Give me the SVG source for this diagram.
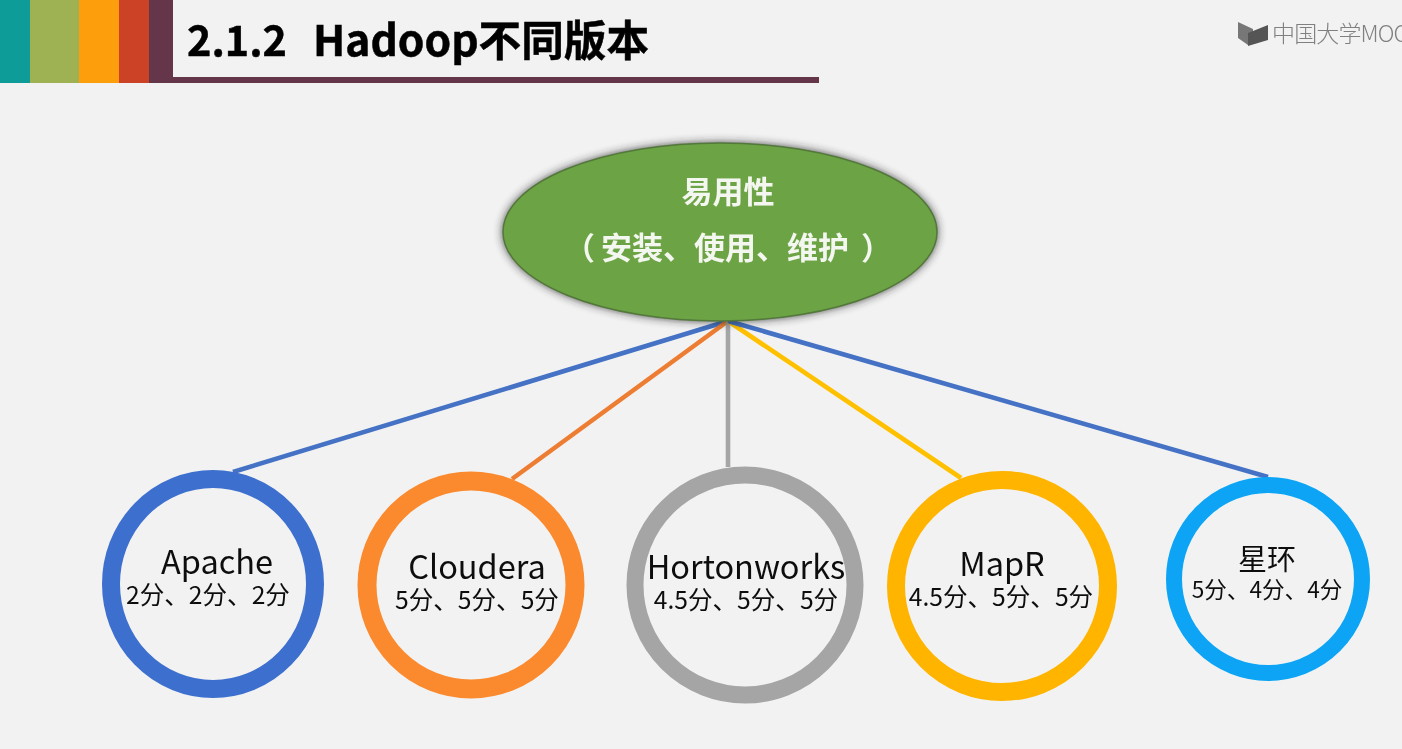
<svg xmlns="http://www.w3.org/2000/svg" width="1402" height="749" viewBox="0 0 1402 749">
<defs>
<style>
.t{font-family:"Noto Sans CJK SC","Noto Sans",sans-serif;text-anchor:middle;fill:#111}
.n{font-size:32.5px}
.s{font-size:24.6px}
.ring{fill:none}
.c{fill:none;stroke-width:4.6}
.w{font-family:"Noto Sans CJK SC","Noto Sans",sans-serif;font-weight:700;font-size:31px;fill:#f4f7f0;text-anchor:middle}
.h{font-family:"Noto Sans CJK SC","Noto Sans",sans-serif;font-weight:700;font-size:42px;fill:#000;stroke:#000;stroke-width:.5}
</style>
<filter id="sh" x="-10%" y="-15%" width="120%" height="130%"><feGaussianBlur stdDeviation="4"/></filter>
<filter id="b" filterUnits="userSpaceOnUse" x="0" y="0" width="1402" height="749"><feGaussianBlur stdDeviation="0.55"/></filter>
</defs>
<rect width="1402" height="749" fill="#f2f2f2"/>
<g filter="url(#b)">
<g id="header">
<rect x="-3" y="-3" width="33" height="86" fill="#0f9c98"/>
<rect x="30" y="-3" width="49" height="86" fill="#9eb153"/>
<rect x="79" y="-3" width="40" height="86" fill="#fd9e10"/>
<rect x="119" y="-3" width="30" height="86" fill="#cb4228"/>
<rect x="149" y="-3" width="24" height="86" fill="#65364a"/>
<rect x="173" y="77" width="646" height="6" fill="#65364a"/>
<text class="h" x="187" y="56" textLength="100" lengthAdjust="spacingAndGlyphs">2.1.2</text>
<text class="h" x="313" y="56" textLength="336" lengthAdjust="spacingAndGlyphs">Hadoop不同版本</text>
</g>
<g id="logo">
<path d="M1238 22 L1253 29 L1253 33 L1248 36 L1248 45 L1238 38Z" fill="#777"/>
<path d="M1248 33 L1268 25 L1268 40 L1248 46Z" fill="#555"/>
<text x="1272" y="42" font-family="'Noto Sans CJK SC',sans-serif" font-weight="300" font-size="23" fill="#808080" textLength="136" lengthAdjust="spacing">中国大学MOC</text>
</g>
<g id="connectors">
<line class="c" x1="728" y1="321" x2="233" y2="472" stroke="#4472c4"/>
<line class="c" x1="728" y1="321" x2="512" y2="479" stroke="#ed7d31"/>
<line class="c" x1="728" y1="321" x2="728" y2="467" stroke="#a5a5a5"/>
<line class="c" x1="728" y1="321" x2="961" y2="478" stroke="#ffc000"/>
<line class="c" x1="728" y1="321" x2="1268" y2="477" stroke="#4472c4"/>
</g>
<g id="node-ease">
<ellipse cx="720" cy="232" rx="218" ry="90" fill="#222" opacity="0.75" filter="url(#sh)"/>
<ellipse cx="720" cy="232" rx="217" ry="89" fill="#6ca344" stroke="#53783a" stroke-width="1.5"/>
<text class="w" x="728" y="203">易用性</text>
<text class="w" y="259" text-anchor="start" style="text-anchor:start"><tspan x="564">（</tspan><tspan x="601">安装、使用、维护</tspan><tspan x="861">）</tspan></text>
</g>
<g id="node-apache">
<ellipse class="ring" cx="213" cy="584" rx="102" ry="105" stroke="#3e70ce" stroke-width="18"/>
<text class="t n" x="217" y="574">Apache</text>
<text class="t s" x="208" y="604">2分、2分、2分</text>
</g>
<g id="node-cloudera">
<ellipse class="ring" cx="471" cy="585" rx="104" ry="104" stroke="#fb8a2e" stroke-width="19"/>
<text class="t n" x="477" y="579">Cloudera</text>
<text class="t s" x="477" y="609">5分、5分、5分</text>
</g>
<g id="node-hortonworks">
<ellipse class="ring" cx="745" cy="585" rx="110" ry="110" stroke="#a5a5a5" stroke-width="17"/>
<text class="t n" x="746" y="579">Hortonworks</text>
<text class="t s" x="746" y="609">4.5分、5分、5分</text>
</g>
<g id="node-mapr">
<ellipse class="ring" cx="1002" cy="586" rx="106" ry="106" stroke="#ffb400" stroke-width="18"/>
<text class="t n" x="1002" y="576">MapR</text>
<text class="t s" x="1001" y="606">4.5分、5分、5分</text>
</g>
<g id="node-xinghuan">
<ellipse class="ring" cx="1268" cy="579" rx="94" ry="94" stroke="#08a4f5" stroke-width="16"/>
<text class="t" x="1267" y="570" font-size="29">星环</text>
<text class="t" x="1267" y="598" font-size="22.6">5分、4分、4分</text>
</g>
</g>
</svg>
